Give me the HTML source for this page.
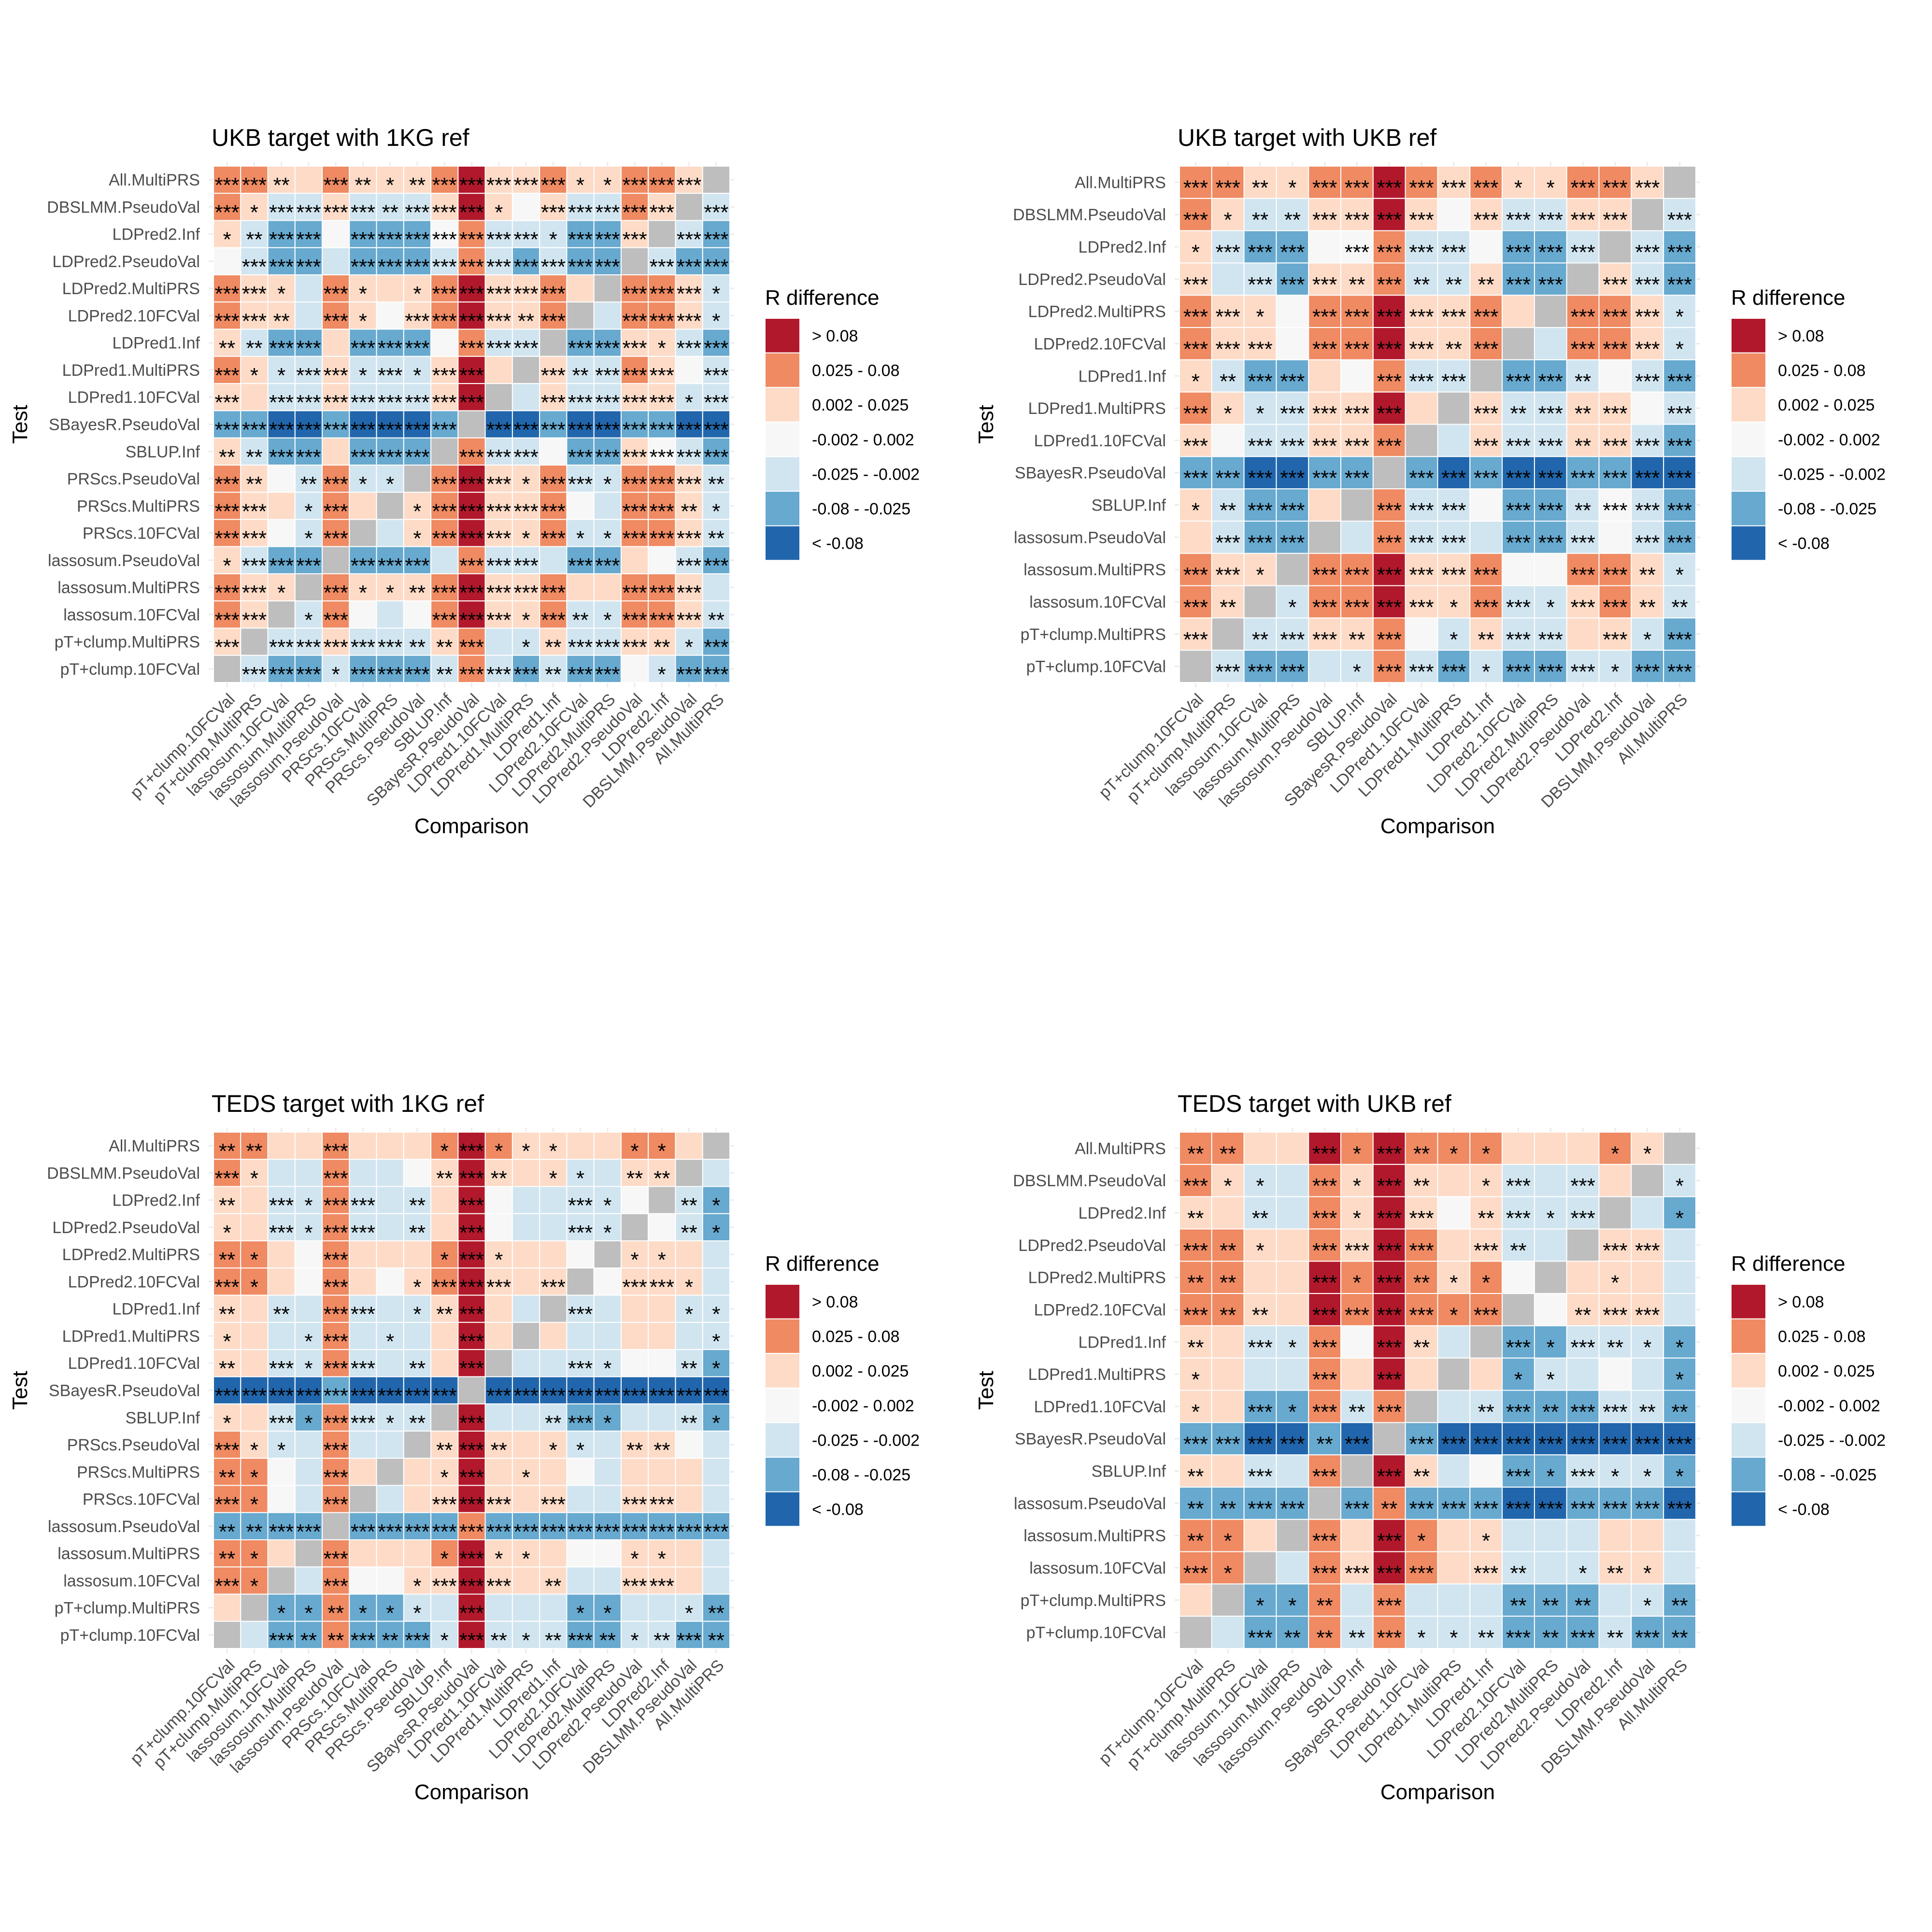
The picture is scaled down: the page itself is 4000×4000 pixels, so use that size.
<!DOCTYPE html>
<html>
<head>
<meta charset="utf-8">
<style>
  html, body { margin: 0; padding: 0; background: #ffffff; }
  body { width: 4000px; height: 4000px; overflow: hidden; }
  svg { display: block; font-family: "Liberation Sans", Arial, sans-serif; }
</style>
</head>
<body>
<svg id="chart" width="4000" height="4000" viewBox="0 0 4000 4000" xmlns="http://www.w3.org/2000/svg">
  <rect x="0" y="0" width="4000" height="4000" fill="#ffffff"/>
</svg>
<script>
// ---- Categories (column order; rows are the reverse) ----
const methods19 = ["pT+clump.10FCVal","pT+clump.MultiPRS","lassosum.10FCVal","lassosum.MultiPRS","lassosum.PseudoVal","PRScs.10FCVal","PRScs.MultiPRS","PRScs.PseudoVal","SBLUP.Inf","SBayesR.PseudoVal","LDPred1.10FCVal","LDPred1.MultiPRS","LDPred1.Inf","LDPred2.10FCVal","LDPred2.MultiPRS","LDPred2.PseudoVal","LDPred2.Inf","DBSLMM.PseudoVal","All.MultiPRS"];
const methods16 = ["pT+clump.10FCVal","pT+clump.MultiPRS","lassosum.10FCVal","lassosum.MultiPRS","lassosum.PseudoVal","SBLUP.Inf","SBayesR.PseudoVal","LDPred1.10FCVal","LDPred1.MultiPRS","LDPred1.Inf","LDPred2.10FCVal","LDPred2.MultiPRS","LDPred2.PseudoVal","LDPred2.Inf","DBSLMM.PseudoVal","All.MultiPRS"];

// ---- Legend bins ----
const binCodes = ["R","O","P","W","L","M","B"];
const binLabels = ["> 0.08","0.025 - 0.08","0.002 - 0.025","-0.002 - 0.002","-0.025 - -0.002","-0.08 - -0.025","< -0.08"];
const binColors = {R:"#B2182B",O:"#EF8A62",P:"#FDDBC7",W:"#F7F7F7",L:"#D1E5F0",M:"#67A9CF",B:"#2166AC",G:"#BEBEBE"};

// ---- Cell values: bin code + number of significance stars (rows top->bottom) ----
const ukb1kg = [
"O3 O3 P2 P0 O3 P2 P1 P2 O3 R3 P3 P3 O3 P1 P1 O3 O3 P3 G0",
"O3 P1 L3 L3 P3 L3 L2 L3 P3 R3 P1 W0 P3 L3 L3 O3 P3 G0 L3",
"P1 L2 M3 M3 W0 M3 M3 M3 W3 O3 L3 L3 L1 M3 M3 P3 G0 L3 M3",
"W0 L3 M3 M3 L0 M3 M3 M3 L3 O3 L3 M3 L3 M3 M3 G0 L3 M3 M3",
"O3 P3 P1 L0 O3 P1 P0 P1 O3 R3 P3 P3 O3 P0 G0 O3 O3 P3 L1",
"O3 P3 P2 L0 O3 P1 W0 P3 O3 R3 P3 P2 O3 G0 L0 O3 O3 P3 L1",
"P2 L2 M3 M3 P0 M3 M3 M3 W0 O3 L3 L3 G0 M3 M3 P3 P1 L3 M3",
"O3 P1 L1 L3 P3 L1 L3 L1 P3 R3 P0 G0 P3 L2 L3 O3 P3 W0 L3",
"P3 P0 L3 L3 P3 L3 L3 L3 P3 R3 G0 L0 P3 L3 L3 P3 P3 L1 L3",
"M3 M3 B3 B3 M3 B3 B3 B3 M3 G0 B3 B3 M3 B3 B3 M3 M3 B3 B3",
"P2 L2 M3 M3 P0 M3 M3 M3 G0 O3 L3 L3 W0 M3 M3 P3 W3 L3 M3",
"O3 P2 W0 L2 O3 L1 L1 G0 O3 R3 P3 P1 O3 L3 L1 O3 O3 P3 L2",
"O3 P3 P0 L1 O3 P0 G0 P1 O3 R3 P3 P3 O3 W0 L0 O3 O3 P2 L1",
"O3 P3 W0 L1 O3 G0 L0 P1 O3 R3 P3 P1 O3 L1 L1 O3 O3 P3 L2",
"P1 L3 M3 M3 G0 M3 M3 M3 L0 O3 L3 L3 L0 M3 M3 P0 W0 L3 M3",
"O3 P3 P1 G0 O3 P1 P1 P2 O3 R3 P3 P3 O3 P0 P0 O3 O3 P3 L0",
"O3 P3 G0 L1 O3 W0 L0 W0 O3 R3 P3 P1 O3 L2 L1 O3 O3 P3 L2",
"P3 G0 L3 L3 P3 L3 L3 L2 P2 O3 L0 L1 P2 L3 L3 P3 P2 L1 M3",
"G0 L3 M3 M3 L1 M3 M3 M3 L2 O3 L3 M3 L2 M3 M3 W0 L1 M3 M3"];

const ukbukb = [
"O3 O3 P2 P1 O3 O3 R3 O3 P3 O3 P1 P1 O3 O3 P3 G0",
"O3 P1 L2 L2 P3 P3 R3 P3 W0 P3 L3 L3 P3 P3 G0 L3",
"P1 L3 M3 M3 W0 W3 O3 L3 L3 W0 M3 M3 L3 G0 L3 M3",
"P3 L0 L3 M3 P3 P2 O3 L2 L2 P2 M3 M3 G0 P3 L3 M3",
"O3 P3 P1 W0 O3 O3 R3 P3 P3 O3 P0 G0 O3 O3 P3 L1",
"O3 P3 P3 W0 O3 O3 R3 P3 P2 O3 G0 L0 O3 O3 P3 L1",
"P1 L2 M3 M3 P0 W0 O3 L3 L3 G0 M3 M3 L2 W0 L3 M3",
"O3 P1 L1 L3 P3 P3 R3 P0 G0 P3 L2 L3 P2 P3 W0 L3",
"P3 W0 L3 L3 P3 P3 O3 G0 L0 P3 L3 L3 P2 P3 L3 M3",
"M3 M3 B3 B3 M3 M3 G0 M3 B3 M3 B3 B3 M3 M3 B3 B3",
"P1 L2 M3 M3 P0 G0 O3 L3 L3 W0 M3 M3 L2 W3 L3 M3",
"P0 L3 M3 M3 G0 L0 O3 L3 L3 L0 M3 M3 L3 W0 L3 M3",
"O3 P3 P1 G0 O3 O3 R3 P3 P3 O3 W0 W0 O3 O3 P2 L1",
"O3 P2 G0 L1 O3 O3 R3 P3 P1 O3 L3 L1 P3 O3 P2 L2",
"P3 G0 L2 L3 P3 P2 O3 W0 L1 P2 L3 L3 P0 P3 L1 M3",
"G0 L3 M3 M3 L0 L1 O3 L3 M3 L1 M3 M3 L3 L1 M3 M3"];

const teds1kg = [
"O2 O2 P0 P0 O3 P0 P0 P0 O1 R3 O1 P1 P1 P0 P0 O1 O1 P0 G0",
"O3 P1 L0 L0 O3 L0 L0 W0 P2 R3 P2 P0 P1 L1 L0 P2 P2 G0 L0",
"P2 P0 L3 L1 O3 L3 L0 L2 P0 R3 W0 L0 L0 L3 L1 W0 G0 L2 M1",
"P1 P0 L3 L1 O3 L3 L0 L2 P0 R3 W0 L0 L0 L3 L1 G0 W0 L2 M1",
"O2 O1 P0 W0 O3 P0 P0 P0 O1 R3 P1 P0 P0 W0 G0 P1 P1 P0 L0",
"O3 O1 P0 W0 O3 P0 W0 P1 O3 R3 P3 P0 P3 G0 W0 P3 P3 P1 L0",
"P2 P0 L2 L0 O3 L3 L0 L1 P2 R3 P0 L0 G0 L3 L0 P0 P0 L1 L1",
"P1 P0 L0 L1 O3 L0 L1 L0 P0 R3 P0 G0 P0 L0 L0 P0 P0 L0 L1",
"P2 P0 L3 L1 O3 L3 L0 L2 P0 R3 G0 L0 L0 L3 L1 W0 W0 L2 M1",
"B3 B3 B3 B3 M3 B3 B3 B3 B3 G0 B3 B3 B3 B3 B3 B3 B3 B3 B3",
"P1 P0 L3 M1 O3 L3 L1 L2 G0 R3 L0 L0 L2 M3 M1 L0 L0 L2 M1",
"O3 P1 L1 L0 O3 L0 L0 G0 P2 R3 P2 P0 P1 L1 L0 P2 P2 W0 L0",
"O2 O1 W0 L0 O3 P0 G0 P0 P1 R3 P0 P1 P0 W0 L0 P0 P0 P0 L0",
"O3 O1 W0 L0 O3 G0 L0 P0 P3 R3 P3 P0 P3 L0 L0 P3 P3 P0 L0",
"M2 M2 M3 M3 G0 M3 M3 M3 M3 O3 M3 M3 M3 M3 M3 M3 M3 M3 M3",
"O2 O1 P0 G0 O3 P0 P0 P0 O1 R3 P1 P1 P0 W0 W0 P1 P1 P0 L0",
"O3 O1 G0 L0 O3 W0 W0 P1 P3 R3 P3 P0 P2 L0 L0 P3 P3 P0 L0",
"P0 G0 M1 M1 O2 M1 M1 L1 L0 R3 L0 L0 L0 M1 M1 L0 L0 L1 M2",
"G0 L0 M3 M2 O2 M3 M2 M3 L1 R3 L2 L1 L2 M3 M2 L1 L2 M3 M2"];

const tedsukb = [
"O2 O2 P0 P0 R3 O1 R3 O2 O1 O1 P0 P0 P0 O1 P1 G0",
"O3 P1 L1 L0 O3 P1 R3 P2 P0 P1 L3 L0 L3 P0 G0 L1",
"P2 P0 L2 L0 O3 P1 R3 P3 W0 P2 L3 L1 L3 G0 L0 M1",
"O3 O2 P1 P0 O3 P3 R3 O3 P0 P3 L2 L0 G0 P3 P3 L0",
"O2 O2 P0 P0 R3 O1 R3 O2 P1 O1 W0 G0 P0 P1 P0 L0",
"O3 O2 P2 P0 R3 O3 R3 O3 O1 O3 G0 W0 P2 P3 P3 L0",
"P2 P0 L3 L1 O3 W0 R3 P2 L0 G0 M3 M1 L3 L2 L1 M1",
"P1 P0 L0 L0 O3 P0 R3 P0 G0 P0 M1 L1 L0 W0 L0 M1",
"P1 P0 M3 M1 O3 L2 O3 G0 L0 L2 M3 M2 M3 L3 L2 M2",
"M3 M3 B3 B3 M2 B3 G0 M3 B3 B3 B3 B3 B3 B3 B3 B3",
"P2 P0 L3 L0 O3 G0 R3 P2 L0 W0 M3 M1 L3 L1 L1 M1",
"M2 M2 M3 M3 G0 M3 O2 M3 M3 M3 B3 B3 M3 M3 M3 B3",
"O2 O1 P0 G0 O3 P0 R3 O1 P0 P1 L0 L0 L0 P0 P0 L0",
"O3 O1 G0 L0 O3 P3 R3 O3 P0 P3 L2 L0 L1 P2 P1 L0",
"P0 G0 M1 M1 O2 L0 O3 L0 L0 L0 M2 M2 M2 L0 L1 M2",
"G0 L0 M3 M2 O2 L2 O3 L1 L1 L2 M3 M2 M3 L2 M3 M2"];

const panelTitles = ["UKB target with 1KG ref","UKB target with UKB ref","TEDS target with 1KG ref","TEDS target with UKB ref"];

const NS = "http://www.w3.org/2000/svg";
const svg = document.getElementById("chart");

function mk(tag, attrs, parent) {
  const e = document.createElementNS(NS, tag);
  for (const k in attrs) e.setAttribute(k, attrs[k]);
  (parent || svg).appendChild(e);
  return e;
}

function drawPanel(idx, ox, oy, methods, data) {
  const n = methods.length;
  const gridW = 1069;
  const cell = gridW / n;
  const gx = ox, gy = oy;
  const g = mk("g", {});
  
  

  // axis scales
  const xPos = i => gx + i * cell;
  const yPos = j => gy + j * cell;
  const rowNames = methods.slice().reverse();

  // title
  const t = mk("text", {x: gx - 4, y: gy - 42, "font-size": 50, fill: "#000"}, g);
  t.textContent = panelTitles[idx];
  
  

  // grid ticks
  for (let i = 0; i < n; i++) {
    const cx = xPos(i) + cell / 2;
    const tk = mk("line", {x1: cx, x2: cx, y1: gy - 9, y2: gy + gridW + 10, stroke: "#EBEBEB", "stroke-width": 3}, g);
    
    
    const cy = yPos(i) + cell / 2;
    const tk2 = mk("line", {x1: gx - 10, x2: gx + gridW + 9, y1: cy, y2: cy, stroke: "#EBEBEB", "stroke-width": 3}, g);
    
    
  }

  // cells
  for (let r = 0; r < n; r++) {
    const toks = data[r].split(" ");
    for (let c = 0; c < n; c++) {
      const code = toks[c][0];
      const stars = parseInt(toks[c].slice(1), 10);
      const rect = mk("rect", {x: xPos(c), y: yPos(r), width: cell, height: cell, fill: binColors[code], stroke: "#ffffff", "stroke-width": 2}, g);
      
      
      if (stars > 0) {
        const st = mk("text", {x: xPos(c) + cell / 2, y: yPos(r) + cell / 2 + 26, "font-size": 44, "text-anchor": "middle", fill: "#000"}, g);
        st.textContent = "*".repeat(stars);
        
        
      }
    }
  }

  // y labels
  for (let r = 0; r < n; r++) {
    const yl = mk("text", {x: gx - 28, y: yPos(r) + cell / 2 + 12, "font-size": 34, "text-anchor": "end", fill: "#4D4D4D"}, g);
    yl.textContent = rowNames[r];
    
    
  }

  // x labels
  for (let c = 0; c < n; c++) {
    const cx = xPos(c) + cell / 2;
    const xl = mk("text", {transform: "translate(" + cx + "," + (gy + gridW + 19) + ") rotate(-45)", "font-size": 34, "text-anchor": "end", dy: "0.75em", fill: "#4D4D4D"}, g);
    xl.textContent = methods[c];
    
    
  }

  // axis titles
  const xt = mk("text", {x: gx + gridW / 2, y: gy + 1381, "font-size": 44, "text-anchor": "middle", fill: "#000"}, g);
  xt.textContent = "Comparison";
  
  
  const yt = mk("text", {transform: "translate(" + (ox - 386) + "," + (gy + gridW / 2) + ") rotate(-90)", "font-size": 44, "text-anchor": "middle", fill: "#000"}, g);
  yt.textContent = "Test";
  
  

  // legend
  const lx = gx + gridW + 73, ly = gy + 315;
  const lt = mk("text", {x: lx, y: ly - 28, "font-size": 44, fill: "#000"}, g);
  lt.textContent = "R difference";
  
  
  for (let k = 0; k < binCodes.length; k++) {
    const sw = mk("rect", {x: lx, y: ly + k * 71.6, width: 72, height: 71.6, fill: binColors[binCodes[k]], stroke: "#ffffff", "stroke-width": 2}, g);
    
    
    const lb = mk("text", {x: lx + 97, y: ly + k * 71.6 + 36 + 12, "font-size": 34, fill: "#000"}, g);
    lb.textContent = binLabels[k];
    
    
  }
}

drawPanel(0, 442, 344, methods19, ukb1kg);
drawPanel(1, 2442, 344, methods16, ukbukb);
drawPanel(2, 442, 2344, methods19, teds1kg);
drawPanel(3, 2442, 2344, methods16, tedsukb);
</script>
</body>
</html>
